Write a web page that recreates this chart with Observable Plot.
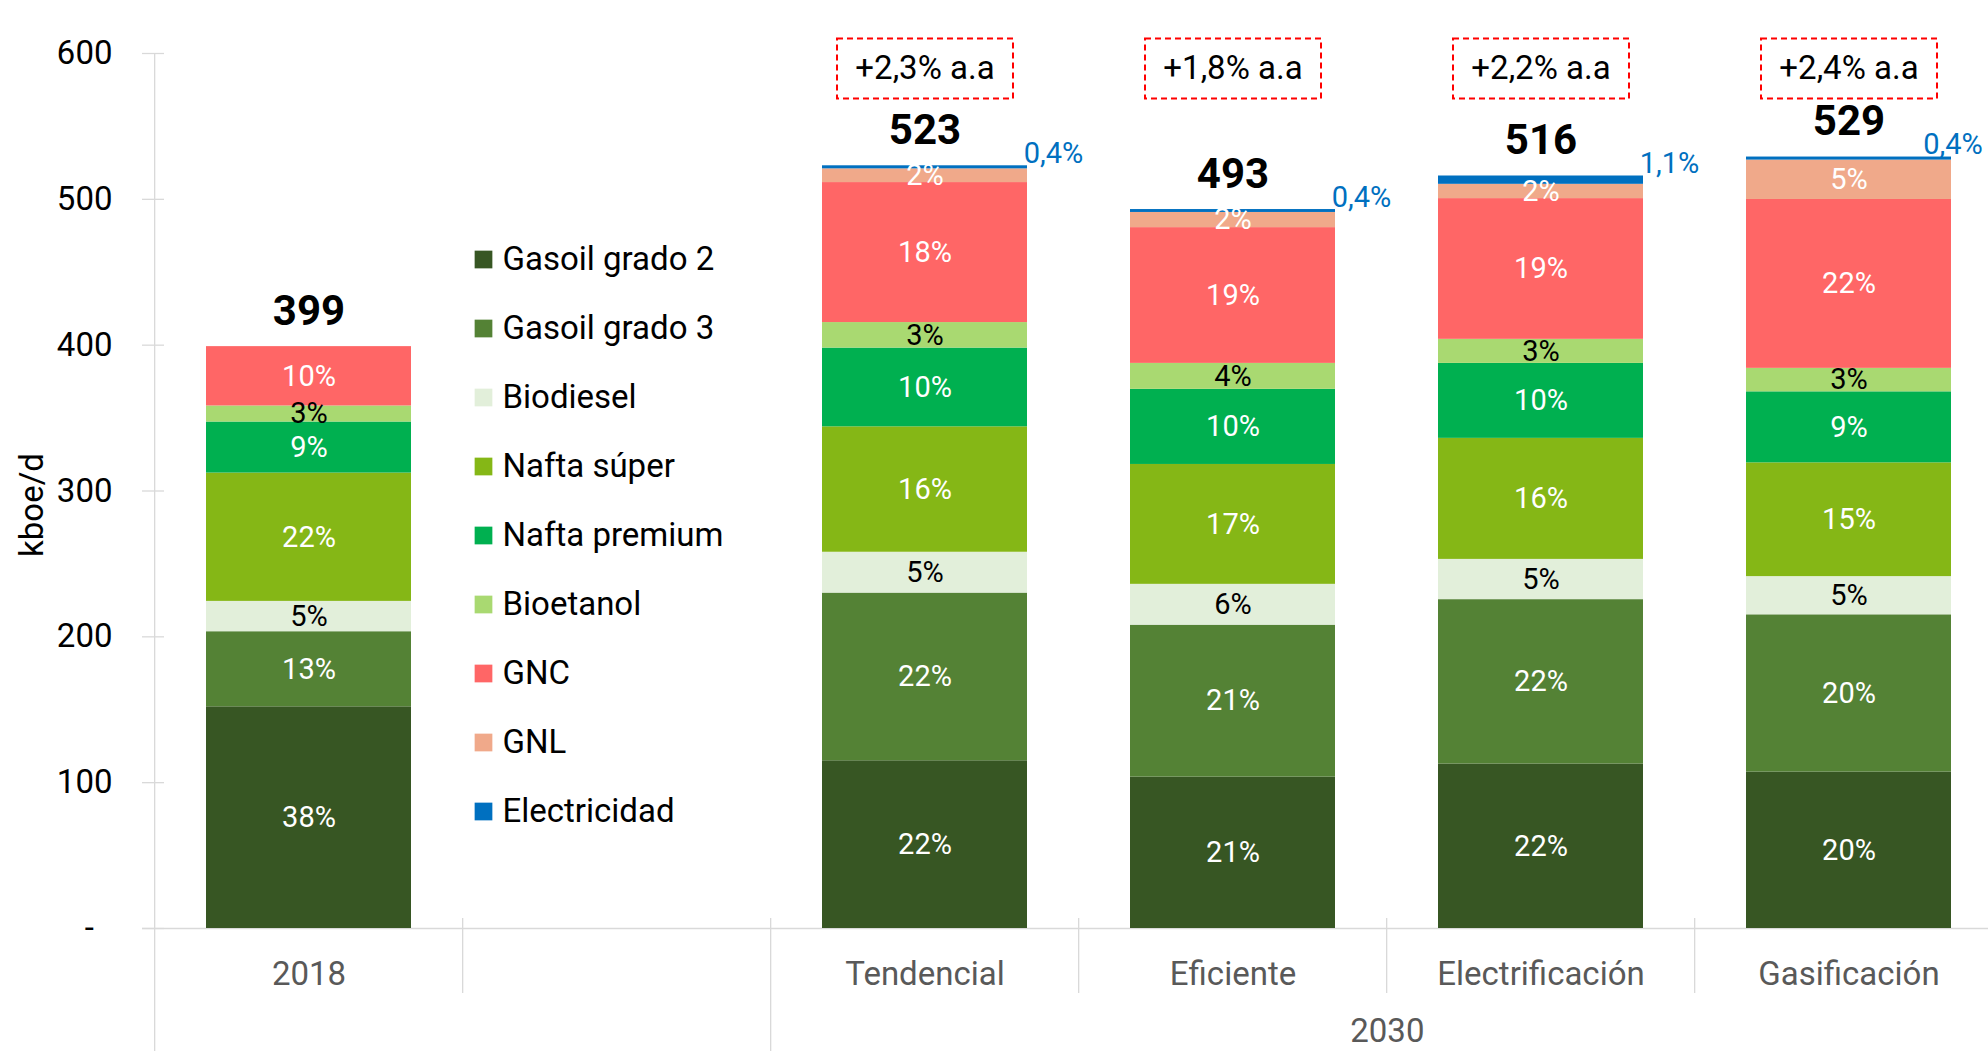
<!DOCTYPE html>
<html>
<head>
<meta charset="utf-8">
<script src="https://cdn.jsdelivr.net/npm/d3@7"></script>
<script src="https://cdn.jsdelivr.net/npm/@observablehq/plot@0.6"></script>
<style>
  html, body { margin: 0; padding: 0; background: #fff; }
  #wrap { position: relative; width: 1988px; height: 1051px; overflow: hidden; background: #fff; }
  #legend { position: absolute; left: 0; top: 0; pointer-events: none; }
</style>
</head>
<body>
<div id="wrap"><div id="chart"></div><div id="legend"></div></div>
<script>
// ---------- data ----------
const categories = ["2018", "gap", "Tendencial", "Eficiente", "Electrificación", "Gasificación"];
const barScenarios = ["2018", "Tendencial", "Eficiente", "Electrificación", "Gasificación"];
const series = ["Gasoil grado 2", "Gasoil grado 3", "Biodiesel", "Nafta súper", "Nafta premium", "Bioetanol", "GNC", "GNL", "Electricidad"];
const seriesColors = ["#375623", "#548235", "#E2EFDA", "#85B716", "#00B050", "#A9D971", "#FF6666", "#F0A98A", "#0070C0"];
// kboe/d per scenario: 2018, Tendencial, Eficiente, Electrificación, Gasificación
const gasoil2      = [152.0, 115.0, 103.8, 112.8, 107.3];
const gasoil3      = [ 51.5, 115.0, 104.2, 112.7, 107.8];
const biodiesel    = [ 20.8,  28.0,  28.0,  27.6,  26.2];
const naftaSuper   = [ 88.0,  86.0,  82.2,  83.0,  78.0];
const naftaPremium = [ 35.0,  54.0,  51.5,  51.4,  48.7];
const bioetanol    = [ 11.0,  17.5,  17.8,  16.5,  16.1];
const gnc          = [ 40.7,  96.0,  93.1,  96.5, 115.8];
const gnl          = [  0.0,   9.4,  10.4,   9.8,  27.0];
const electricidad = [  0.0,   2.1,   2.0,   5.7,   2.1];
const growthScenarios = ["Tendencial", "Eficiente", "Electrificación", "Gasificación"];
const growthLabels = ["+2,3% a.a", "+1,8% a.a", "+2,2% a.a", "+2,4% a.a"];
const yTicks = [0, 100, 200, 300, 400, 500, 600];
const groupLabel = "2030";
const yLabel = "kboe/d";

// ---------- build tables ----------
const seriesValues = [gasoil2, gasoil3, biodiesel, naftaSuper, naftaPremium, bioetanol, gnc, gnl, electricidad];
const data = [];
barScenarios.forEach((s, j) => series.forEach((name, i) => data.push({scenario: s, series: name, value: seriesValues[i][j]})));
const totals = barScenarios.map((s, j) => ({scenario: s, total: d3.sum(seriesValues, v => v[j])}));
const totalOf = new Map(totals.map(d => [d.scenario, d.total]));
const pct = d => Math.round(d.value / totalOf.get(d.scenario) * 100) + "%";
const darkSeries = new Set(["Gasoil grado 2", "Gasoil grado 3", "Nafta súper", "Nafta premium", "GNC", "GNL"]);
const lightSeries = new Set(["Biodiesel", "Bioetanol"]);
const elecData = data.filter(d => d.series === "Electricidad" && d.value > 0).map(d => ({
  scenario: d.scenario,
  total: totalOf.get(d.scenario),
  label: (d.value / totalOf.get(d.scenario) * 100).toFixed(1).replace(".", ",") + "%"
}));
const lastScenario = barScenarios[barScenarios.length - 1];
const growth = growthScenarios.map((s, i) => ({scenario: s, label: growthLabels[i]}));

// ---------- layout ----------
const W = 1988, H = 1051;
const mL = 153, mT = 53, mB = 123;
const xRange = [153, 2005];
const padInner = 0.334;
const step = (xRange[1] - xRange[0]) / categories.length;
const bw = step * (1 - padInner);
const frameBottom = H - mB;
const gridColor = "#d9d9d9";
const font = "Roboto, 'Noto Sans', sans-serif";

const boxSymbol = { draw(ctx) { ctx.rect(-88, -30, 176, 60); } };

const chart = Plot.plot({
  width: W, height: H,
  marginLeft: mL, marginRight: 0, marginTop: mT, marginBottom: mB,
  style: {fontFamily: font, background: "white", overflow: "visible"},
  x: {domain: categories, range: xRange, paddingInner: padInner, paddingOuter: padInner / 2, align: 0.5, label: null},
  y: {domain: [0, 600], label: null},
  color: {domain: series, range: seriesColors},
  marks: [
    // vertical axis line & category separators
    Plot.ruleX(["2018"], {x: d => d, dx: -step / 2, insetBottom: -mB, stroke: gridColor, strokeWidth: 1.3}),
    Plot.ruleX(["Tendencial"], {x: d => d, dx: -step / 2, insetTop: frameBottom - mT - 10, insetBottom: -mB, stroke: gridColor, strokeWidth: 1.3}),
    Plot.ruleX(["gap", "Eficiente", "Electrificación", "Gasificación"], {x: d => d, dx: -step / 2, insetTop: frameBottom - mT - 10, insetBottom: -65, stroke: gridColor, strokeWidth: 1.3}),
    // y tick marks crossing the axis
    Plot.tickY(yTicks, {y: d => d, insetLeft: -11, insetRight: W - mL - 11, stroke: gridColor, strokeWidth: 1.3}),
    // baseline
    Plot.ruleY([0], {insetLeft: -11, stroke: gridColor, strokeWidth: 1.5}),
    // stacked bars
    Plot.barY(data, {x: "scenario", y: "value", fill: "series"}),
    // percentage labels
    Plot.text(data, Plot.stackY({x: "scenario", y: "value", z: "series",
      text: d => (darkSeries.has(d.series) && d.value > 0) ? pct(d) : "",
      fill: "white", fontSize: 29})),
    Plot.text(data, Plot.stackY({x: "scenario", y: "value", z: "series",
      text: d => (lightSeries.has(d.series) && d.value > 0) ? pct(d) : "",
      fill: "black", fontSize: 29})),
    // totals
    Plot.text(totals, {x: "scenario", y: "total", text: d => d3.format(".0f")(d.total), dy: -35, fontSize: 42, fontWeight: "bold", fill: "black"}),
    // electricity share labels
    Plot.text(elecData.filter(d => d.scenario !== lastScenario), {x: "scenario", y: "total", text: "label", textAnchor: "start", dx: bw / 2 - 4, dy: -12, fill: "#0070C0", fontSize: 29}),
    Plot.text(elecData.filter(d => d.scenario === lastScenario), {x: "scenario", y: "total", text: "label", textAnchor: "end", dx: bw / 2 + 31, dy: -12, fill: "#0070C0", fontSize: 29}),
    // growth boxes
    Plot.dot(growth, {x: "scenario", frameAnchor: "top", dy: 15, symbol: boxSymbol, r: 10, fill: "none", stroke: "#FF0000", strokeWidth: 2, strokeDasharray: "6,4"}),
    Plot.text(growth, {x: "scenario", text: "label", frameAnchor: "top", lineAnchor: "middle", dy: 15, fontSize: 33, fill: "black"}),
    // axes
    Plot.axisY({ticks: yTicks, tickSize: 0, tickPadding: 41, tickFormat: d => d === 0 ? "-\u2007" : String(d), fontSize: 33, label: null}),
    Plot.axisX({tickSize: 0, tickPadding: 33, tickFormat: d => d === "gap" ? "" : d, fontSize: 33, color: "#595959", label: null}),
    Plot.text([groupLabel], {x: () => "Eficiente", text: d => d, dx: step / 2, frameAnchor: "bottom", lineAnchor: "middle", dy: 103, fontSize: 33, fill: "#595959"}),
    Plot.text([yLabel], {text: d => d, frameAnchor: "left", textAnchor: "middle", lineAnchor: "middle", rotate: -90, dx: -121, dy: 14, fontSize: 33, fill: "black"})
  ]
});
document.getElementById("chart").appendChild(chart);

// legend drawn inside the plot area
const legend = Plot.plot({
  width: W, height: H,
  marginLeft: 483, marginRight: 0, marginTop: 0, marginBottom: 0,
  style: {fontFamily: font, background: "transparent"},
  y: {type: "point", domain: series, range: [256, 814], padding: 0, axis: null},
  color: {domain: series, range: seriesColors},
  marks: [
    Plot.dot(series, {y: d => d, fill: d => d, symbol: "square", r: 10, frameAnchor: "left"}),
    Plot.text(series, {y: d => d, text: d => d, frameAnchor: "left", dx: 19, textAnchor: "start", fontSize: 33, fill: "black"})
  ]
});
document.getElementById("legend").appendChild(legend);
</script>
</body>
</html>
